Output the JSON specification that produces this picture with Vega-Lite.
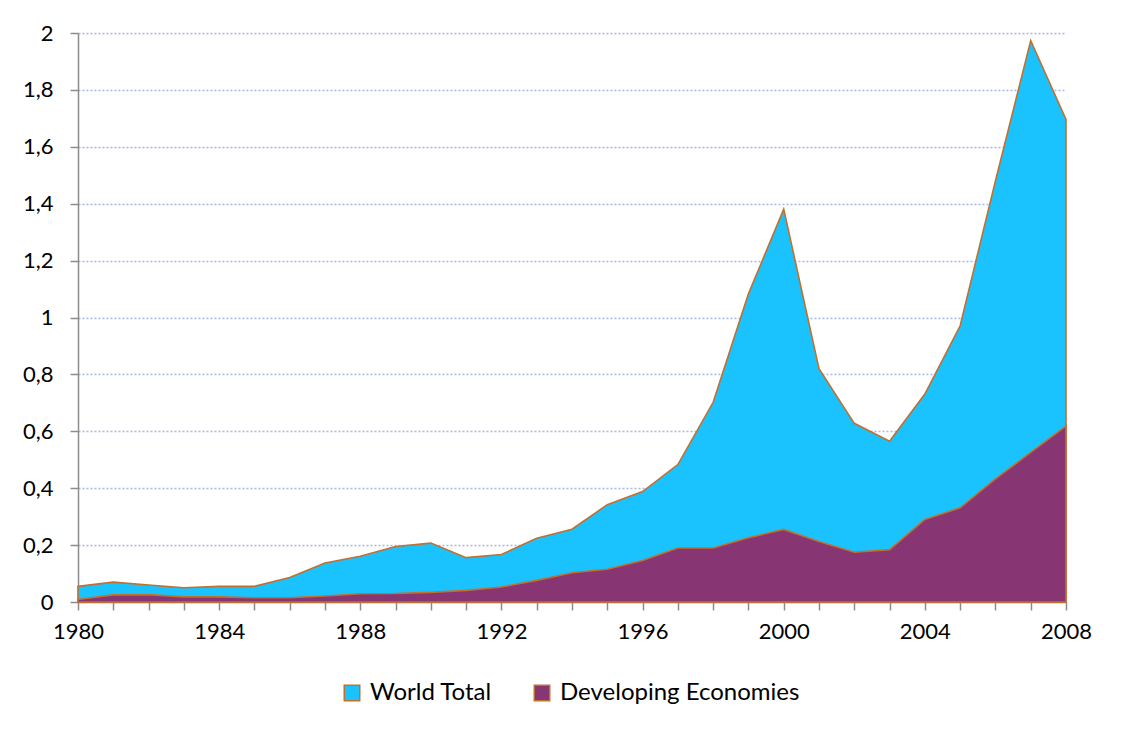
{
  "$schema": "https://vega.github.io/schema/vega-lite/v6.json",
  "width": 988,
  "height": 569,
  "autosize": {"type": "none"},
  "padding": {"left": 78, "top": 33, "right": 57, "bottom": 132},
  "background": "white",
  "data": {
    "values": [
      {"year": 1980, "world": 0.055, "dev": 0.009},
      {"year": 1981, "world": 0.070, "dev": 0.025},
      {"year": 1982, "world": 0.060, "dev": 0.026},
      {"year": 1983, "world": 0.050, "dev": 0.018},
      {"year": 1984, "world": 0.055, "dev": 0.018},
      {"year": 1985, "world": 0.055, "dev": 0.015},
      {"year": 1986, "world": 0.086, "dev": 0.015},
      {"year": 1987, "world": 0.137, "dev": 0.021},
      {"year": 1988, "world": 0.161, "dev": 0.029},
      {"year": 1989, "world": 0.195, "dev": 0.030},
      {"year": 1990, "world": 0.207, "dev": 0.034},
      {"year": 1991, "world": 0.156, "dev": 0.041},
      {"year": 1992, "world": 0.167, "dev": 0.053},
      {"year": 1993, "world": 0.224, "dev": 0.076},
      {"year": 1994, "world": 0.256, "dev": 0.103},
      {"year": 1995, "world": 0.342, "dev": 0.115},
      {"year": 1996, "world": 0.388, "dev": 0.146},
      {"year": 1997, "world": 0.483, "dev": 0.190},
      {"year": 1998, "world": 0.702, "dev": 0.190},
      {"year": 1999, "world": 1.083, "dev": 0.226},
      {"year": 2000, "world": 1.381, "dev": 0.255},
      {"year": 2001, "world": 0.820, "dev": 0.213},
      {"year": 2002, "world": 0.628, "dev": 0.175},
      {"year": 2003, "world": 0.565, "dev": 0.184},
      {"year": 2004, "world": 0.731, "dev": 0.290},
      {"year": 2005, "world": 0.971, "dev": 0.331},
      {"year": 2006, "world": 1.480, "dev": 0.433},
      {"year": 2007, "world": 1.973, "dev": 0.526},
      {"year": 2008, "world": 1.696, "dev": 0.618}
    ]
  },
  "encoding": {
    "x": {
      "field": "year",
      "type": "quantitative",
      "scale": {"domain": [1980, 2008], "zero": false, "nice": false},
      "axis": {
        "title": null,
        "grid": false,
        "values": [1980,1981,1982,1983,1984,1985,1986,1987,1988,1989,1990,1991,1992,1993,1994,1995,1996,1997,1998,1999,2000,2001,2002,2003,2004,2005,2006,2007,2008],
        "labelExpr": "datum.value % 4 == 0 ? format(datum.value, 'd') : ''",
        "labelFlush": false,
        "labelOverlap": false,
        "tickSize": 8,
        "labelPadding": 11
      }
    }
  },
  "layer": [
    {
      "mark": {"type": "area", "stroke": "#C0702F", "strokeWidth": 1.6, "fillOpacity": 1, "opacity": 1},
      "encoding": {
        "y": {
          "field": "world",
          "type": "quantitative",
          "scale": {"domain": [0, 2], "nice": false},
          "axis": {
            "title": null,
            "values": [0, 0.2, 0.4, 0.6, 0.8, 1, 1.2, 1.4, 1.6, 1.8, 2],
            "labelExpr": "replace(format(datum.value, '~g'), '.', ',')",
            "tickSize": 8,
            "labelPadding": 17,
            "grid": true,
            "gridColor": "#A3B8E3",
            "gridDash": [2, 2],
            "gridWidth": 1.5
          }
        },
        "color": {
          "datum": "World Total",
          "type": "nominal",
          "scale": {"domain": ["World Total", "Developing Economies"], "range": ["#1BC3FE", "#873573"]},
          "legend": {
            "title": null,
            "orient": "none",
            "direction": "horizontal",
            "legendX": 262,
            "legendY": 648,
            "symbolType": "square",
            "symbolSize": 240,
            "symbolStrokeColor": "#C0702F",
            "symbolStrokeWidth": 1.5,
            "symbolOpacity": 1,
            "labelFontSize": 24,
            "labelFont": "Lato",
            "labelColor": "#000000",
            "labelLimit": 400,
            "labelOffset": 6,
            "columnPadding": 38
          }
        }
      }
    },
    {
      "mark": {"type": "area", "stroke": "#C0702F", "strokeWidth": 1.6, "fillOpacity": 1, "opacity": 1},
      "encoding": {
        "y": {"field": "dev", "type": "quantitative"},
        "color": {"datum": "Developing Economies", "type": "nominal"}
      }
    }
  ],
  "config": {
    "view": {"stroke": null},
    "font": "Lato",
    "axis": {
      "labelFont": "Lato",
      "labelFontSize": 22,
      "labelColor": "#000000",
      "domainColor": "#8C8C8C",
      "domainWidth": 1.5,
      "tickColor": "#8C8C8C",
      "tickWidth": 1.5
    }
  }
}
